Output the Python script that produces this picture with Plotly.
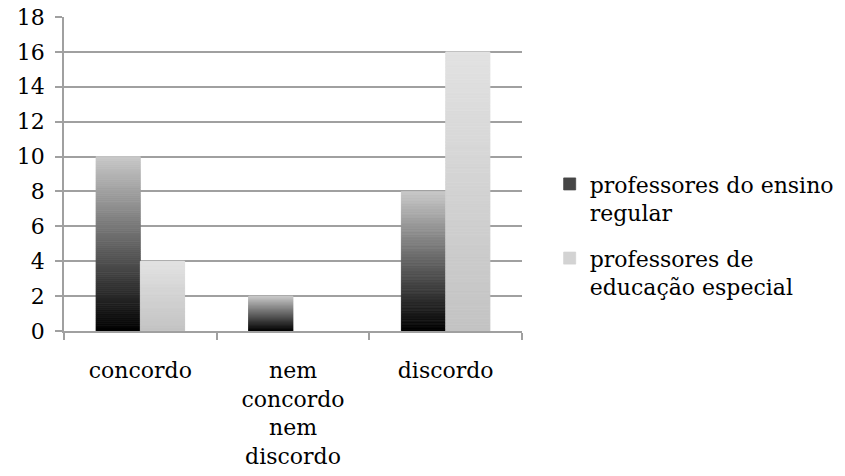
import plotly.graph_objects as go

categories = ["concordo", "nem<br>concordo<br>nem<br>discordo", "discordo"]
series_names = ["professores do ensino<br>regular", "professores de<br>educação especial"]
regular = [10, 2, 8]
especial = [4, 0, 16]
y_ticks = [0, 2, 4, 6, 8, 10, 12, 14, 16, 18]

FONT = "DejaVu Serif, Liberation Serif, serif"
FS = 22
N = 90  # slices per bar used to build the vertical gradient


def lerp(c0, c1, t):
    return "rgb({},{},{})".format(*[round(a + (b - a) * t) for a, b in zip(c0, c1)])


fig = go.Figure()

gradients = [
    ((0, 0, 0), (200, 200, 200), 0.35),      # dark base to light top
    ((195, 195, 195), (226, 226, 226), 0.5),  # light gray, slightly lighter at top
]

for s, (values, name) in enumerate(zip([regular, especial], series_names)):
    c0, c1, legend_t = gradients[s]
    legend_idx = int(legend_t * N)
    for i in range(N):
        t = (i + 0.5) / N
        col = lerp(c0, c1, t)
        fig.add_trace(go.Bar(
            x=categories,
            y=[v / N if v else None for v in values],
            base=[v * i / N for v in values],
            offsetgroup=str(s),
            legendgroup=str(s),
            name=name,
            showlegend=(i == legend_idx),
            marker=dict(color=col, line=dict(width=0.8, color=col)),
            hoverinfo="skip",
        ))

fig.update_layout(
    width=845,
    height=476,
    margin=dict(l=64, r=323, t=17, b=145),
    paper_bgcolor="white",
    plot_bgcolor="white",
    barmode="group",
    bargap=0.42,
    bargroupgap=0,
    font=dict(family=FONT, size=FS, color="black"),
    showlegend=True,
    legend=dict(
        xref="container", yref="container",
        x=0.6505, y=0.505, xanchor="left", yanchor="middle",
        font=dict(family=FONT, size=FS, color="black"),
        valign="top",
        tracegroupgap=14,
        itemwidth=30,
        bgcolor="rgba(0,0,0,0)",
    ),
)

fig.update_xaxes(
    type="category",
    automargin=False,
    showline=True, linecolor="#a0a0a0", linewidth=1.5,
    ticks="outside", ticklen=7, tickcolor="#a0a0a0", tickwidth=1.5,
    tickson="boundaries",
    ticklabelstandoff=19,
    showgrid=False,
    tickfont=dict(family=FONT, size=FS, color="black"),
)

fig.update_yaxes(
    range=[0, 18],
    tickvals=y_ticks,
    automargin=False,
    showline=True, linecolor="#a0a0a0", linewidth=1.5,
    ticks="outside", ticklen=7, tickcolor="#a0a0a0", tickwidth=1.5,
    ticklabelstandoff=6,
    showgrid=True, gridcolor="#a0a0a0", gridwidth=1.5,
    zeroline=False,
    tickfont=dict(family=FONT, size=FS, color="black"),
)

fig.write_html("out.html")
